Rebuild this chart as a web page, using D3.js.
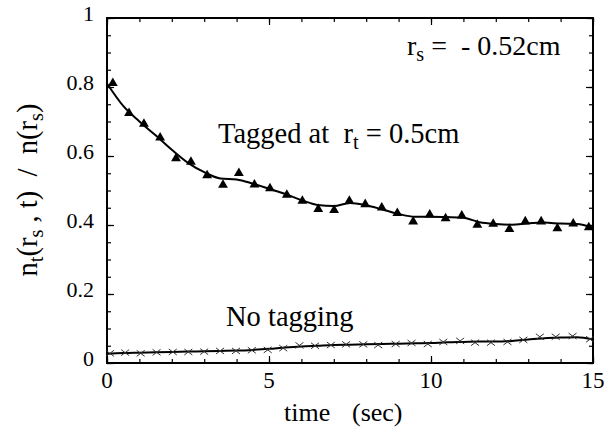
<!DOCTYPE html>
<html>
<head>
<meta charset="utf-8">
<script src="https://cdn.jsdelivr.net/npm/d3@7"></script>
<style>
  body { margin: 0; background: #fff; }
</style>
</head>
<body>
<div id="chart"></div>
<script>

// measured times (sec) of the tagged and untagged samples
var times_tagged = [0.18, 0.68, 1.14, 1.64, 2.13, 2.59, 3.09, 3.58, 4.07, 4.55, 5.03,
  5.55, 6.03, 6.52, 7.01, 7.48, 7.97, 8.48, 8.96, 9.45, 9.96, 10.45, 10.95, 11.43,
  11.92, 12.42, 12.91, 13.40, 13.90, 14.39, 14.87]
var values_tagged = [0.811, 0.724, 0.693, 0.653, 0.593, 0.583, 0.544, 0.516, 0.550, 0.517, 0.506,
  0.487, 0.470, 0.446, 0.443, 0.470, 0.460, 0.450, 0.434, 0.410, 0.430, 0.419, 0.427, 0.400,
  0.403, 0.388, 0.410, 0.410, 0.390, 0.404, 0.393]

var times_untagged = [0.09, 0.56, 1.04, 1.53, 2.03, 2.51, 3.00, 3.49, 3.98, 4.47, 4.96,
  5.44, 5.94, 6.42, 6.91, 7.38, 7.91, 8.37, 8.91, 9.40, 9.90, 10.38, 10.90, 11.36,
  11.85, 12.36, 12.85, 13.36, 13.85, 14.37, 14.91]
var values_untagged = [0.028, 0.030, 0.028, 0.031, 0.032, 0.032, 0.033, 0.035, 0.035, 0.037, 0.038,
  0.043, 0.051, 0.050, 0.052, 0.054, 0.054, 0.052, 0.055, 0.058, 0.055, 0.061, 0.064, 0.059,
  0.059, 0.061, 0.067, 0.076, 0.076, 0.078, 0.069]

// smooth fit curves
var fit_times = [0, 0.5, 1, 1.5, 2, 2.5, 3, 3.5, 4, 4.5, 5, 5.5, 6, 6.5, 7, 7.5, 8, 8.5, 9,
  9.5, 10, 10.5, 11, 11.5, 12, 12.5, 13, 13.5, 14, 14.5, 15]
var fit_tagged = [0.81, 0.745, 0.70, 0.66, 0.618, 0.58, 0.553, 0.535, 0.532, 0.52, 0.505,
  0.49, 0.472, 0.458, 0.455, 0.464, 0.457, 0.445, 0.432, 0.424, 0.424, 0.423, 0.421, 0.408,
  0.403, 0.401, 0.405, 0.407, 0.404, 0.403, 0.392]
var fit_untagged = [0.027, 0.029, 0.030, 0.031, 0.032, 0.033, 0.034, 0.035, 0.036, 0.038, 0.041,
  0.045, 0.048, 0.050, 0.052, 0.053, 0.054, 0.055, 0.056, 0.057, 0.058, 0.060, 0.061, 0.062,
  0.062, 0.064, 0.068, 0.072, 0.074, 0.075, 0.068]

var x_ticks = [0, 5, 10, 15]
var y_ticks = [0, 0.2, 0.4, 0.6, 0.8, 1]

var serif = "'Liberation Serif', 'Times New Roman', Times, 'DejaVu Serif', serif"

var width = 605, height = 433
var m_left = 107, m_right = 593, m_top = 18, m_bottom = 363

var svg = d3.select("#chart").append("svg")
  .attr("width", width)
  .attr("height", height)
  .style("font-family", serif)

var x = d3.scaleLinear().domain([0, 15]).range([m_left, m_right])
var y = d3.scaleLinear().domain([0, 1]).range([m_bottom, m_top])

// inward ticks on all four sides
function add_ticks(axis, pos, major, minor_count){
  var g = svg.append("g").attr("transform", pos)
    .call(axis.ticks(minor_count).tickSize(4).tickFormat(""))
  g.select(".domain").remove()
  g.selectAll("line").attr("stroke", "#000").attr("stroke-width", 1.2)
  var g2 = svg.append("g").attr("transform", pos)
    .call(axis.tickValues(major).tickSize(7).tickFormat(""))
  g2.select(".domain").remove()
  g2.selectAll("line").attr("stroke", "#000").attr("stroke-width", 1.2)
}
add_ticks(d3.axisTop(x), "translate(0," + m_bottom + ")", x_ticks, 15)
add_ticks(d3.axisBottom(x), "translate(0," + m_top + ")", x_ticks, 15)
add_ticks(d3.axisRight(y), "translate(" + m_left + ",0)", y_ticks, 20)
add_ticks(d3.axisLeft(y), "translate(" + m_right + ",0)", y_ticks, 20)

// frame
svg.append("rect")
  .attr("x", m_left).attr("y", m_top)
  .attr("width", m_right - m_left).attr("height", m_bottom - m_top)
  .attr("fill", "none").attr("stroke", "#000").attr("stroke-width", 2)

// tick labels
svg.selectAll(".xlab").data(x_ticks).enter().append("text")
  .attr("x", function(d){ return x(d) })
  .attr("y", 388)
  .attr("text-anchor", "middle")
  .style("font-family", serif)
  .style("font-size", "23px")
  .text(function(d){ return d })

svg.selectAll(".ylab").data(y_ticks).enter().append("text")
  .attr("x", 94)
  .attr("y", function(d){ return y(d) + 3 })
  .attr("text-anchor", "end")
  .style("font-family", serif)
  .style("font-size", "22px")
  .text(function(d){ return d })

// fit lines
var line = d3.line().curve(d3.curveMonotoneX)
svg.append("path")
  .attr("d", line(fit_times.map(function(t, i){ return [x(t), y(fit_tagged[i])] })))
  .attr("fill", "none").attr("stroke", "#000").attr("stroke-width", 2)
svg.append("path")
  .attr("d", line(fit_times.map(function(t, i){ return [x(t), y(fit_untagged[i])] })))
  .attr("fill", "none").attr("stroke", "#000").attr("stroke-width", 2)

// triangles
svg.selectAll(".tri").data(times_tagged).enter().append("path")
  .attr("d", d3.symbol().type(d3.symbolTriangle).size(42))
  .attr("transform", function(d, i){ return "translate(" + x(d) + "," + y(values_tagged[i]) + ")" })
  .attr("fill", "#000")

// crosses
svg.selectAll(".cross").data(times_untagged).enter().append("path")
  .attr("d", "M-4,-3L4,3M-4,3L4,-3")
  .attr("transform", function(d, i){ return "translate(" + x(d) + "," + y(values_untagged[i]) + ")" })
  .attr("fill", "none").attr("stroke", "#333").attr("stroke-width", 1)

// annotations
function sub_text(xp, yp, parts, size){
  var t = svg.append("text").attr("x", xp).attr("y", yp)
    .style("font-family", serif)
    .style("font-size", size + "px")
    .attr("xml:space", "preserve")
  parts.forEach(function(p){
    var s = t.append("tspan").text(p[0])
    if (p[1] == "sub") s.attr("dy", 6).style("font-size", (size * 0.72) + "px")
    if (p[1] == "back") s.attr("dy", -6)
  })
  return t
}

sub_text(407, 55, [["r"], ["s", "sub"], [" =  - 0.52cm", "back"]], 28)
sub_text(218, 143, [["Tagged at  r"], ["t", "sub"], [" = 0.5cm", "back"]], 28.5)
sub_text(226, 326, [["No tagging"]], 28.5)

// x axis title
svg.append("text")
  .attr("x", 284).attr("y", 421)
  .style("font-family", serif)
  .style("font-size", "26px")
  .text("time")
svg.append("text")
  .attr("x", 352).attr("y", 421)
  .style("font-family", serif)
  .style("font-size", "26px")
  .text("(sec)")

// y axis title
var yt = sub_text(0, 0, [["n"], ["t", "sub"], ["(r", "back"], ["s", "sub"], [" , t)  /  n(r", "back"], ["s", "sub"], [")", "back"]], 28.5)
yt.attr("transform", "translate(37,190) rotate(-90)")
  .attr("text-anchor", "middle")

</script>
</body>
</html>
